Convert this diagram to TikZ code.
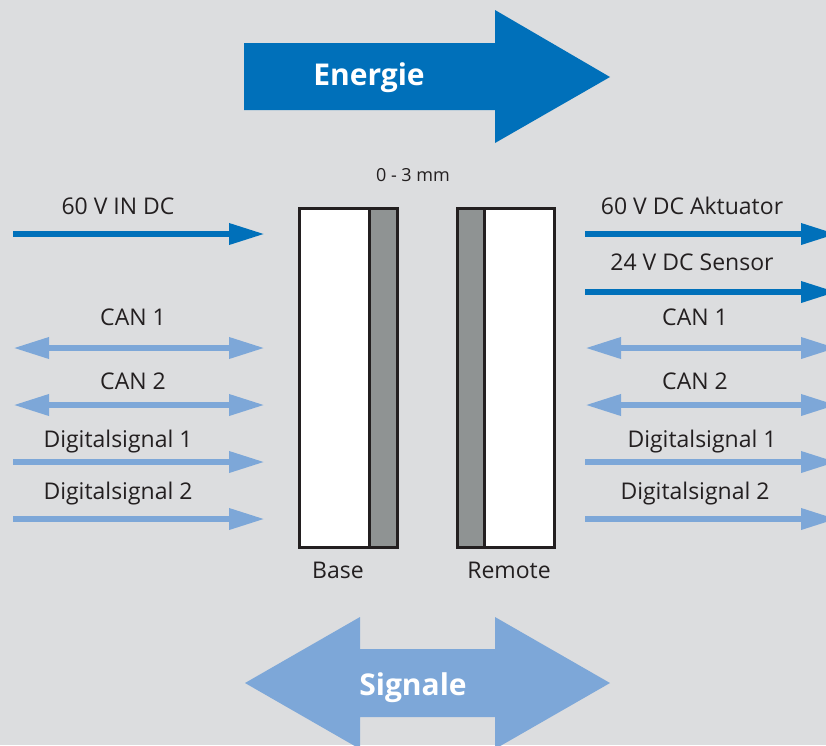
\documentclass[tikz,border=0pt]{standalone}
\usepackage{fontspec}
\setmainfont{Open Sans}
\usetikzlibrary{arrows.meta}
\definecolor{bg}{HTML}{DCDDDF}
\definecolor{dblue}{HTML}{0070BA}
\definecolor{lblue}{HTML}{7DA7D8}
\definecolor{ink}{HTML}{231F20}
\definecolor{slab}{HTML}{8F9393}
\tikzset{
  lbl/.style={text=ink, font=\fontsize{23}{25}\selectfont, inner sep=0pt, anchor=base},
  power/.style={draw=dblue, line width=6.5pt, -{Triangle[length=36pt,width=20pt]}},
  sig/.style={draw=lblue, line width=6.5pt, -{Triangle[length=36pt,width=20pt]}},
  sigboth/.style={draw=lblue, line width=6.5pt, {Triangle[length=36pt,width=20pt]}-{Triangle[length=36pt,width=20pt]}},
  whitebox/.style={draw=ink, line width=3pt, fill=white, inner sep=0pt, minimum width=#1, minimum height=339pt, anchor=north west},
  slabbox/.style={draw=ink, line width=3pt, fill=slab, inner sep=0pt, minimum width=28pt, minimum height=339pt, anchor=north west},
  big/.style={text=white, font=\bfseries\fontsize{30}{32}\selectfont, inner sep=0pt, anchor=base}
}
\begin{document}
\begin{tikzpicture}[x=1pt,y=-1pt]
\useasboundingbox (0,0) rectangle (826,745);
\clip (0,0) rectangle (826,745);
\fill[bg] (0,0) rectangle (826,745);
% Energie arrow
\fill[dblue] (244,43) -- (495,43) -- (495,10) -- (610,77) -- (495,143) -- (495,110) -- (244,110) -- cycle;
\node[big] (energie) at (369,85) {Energie};
% Signale arrow
\fill[lblue] (245,683) -- (360,617) -- (360,649) -- (495,649) -- (495,617) -- (610,683) -- (495,749) -- (495,717) -- (360,717) -- (360,749) -- cycle;
\node[big] (signale) at (413,695) {Signale};
% boxes
\node[whitebox=71pt] (base) at (297.5,207) {};
\node[slabbox] (baseslab) at (368,207) {};
\node[slabbox] (remslab) at (456,207) {};
\node[whitebox=70pt] (remote) at (483,207) {};
\node[text=ink, font=\fontsize{18}{20}\selectfont, anchor=base] (gap) at (413,181) {0 - 3 mm};
\node[lbl] (basel) at (338,578) {Base};
\node[lbl] (remotel) at (509,578) {Remote};
% left side coordinates
\coordinate (l1a) at (13,234); \coordinate (l1b) at (265,234);
\coordinate (l2a) at (13,348); \coordinate (l2b) at (265,348);
\coordinate (l3a) at (13,405); \coordinate (l3b) at (265,405);
\coordinate (l4a) at (13,462); \coordinate (l4b) at (265,462);
\coordinate (l5a) at (13,519); \coordinate (l5b) at (265,519);
% right side coordinates
\coordinate (r1a) at (585,234); \coordinate (r1b) at (837,234);
\coordinate (r2a) at (585,292); \coordinate (r2b) at (837,292);
\coordinate (r3a) at (585,348); \coordinate (r3b) at (837,348);
\coordinate (r4a) at (585,405); \coordinate (r4b) at (837,405);
\coordinate (r5a) at (585,462); \coordinate (r5b) at (837,462);
\coordinate (r6a) at (585,519); \coordinate (r6b) at (837,519);
\draw[power] (l1a) -- (l1b);
\draw[sigboth] (l2a) -- (l2b);
\draw[sigboth] (l3a) -- (l3b);
\draw[sig] (l4a) -- (l4b);
\draw[sig] (l5a) -- (l5b);
\draw[power] (r1a) -- (r1b);
\draw[power] (r2a) -- (r2b);
\draw[sigboth] (r3a) -- (r3b);
\draw[sigboth] (r4a) -- (r4b);
\draw[sig] (r5a) -- (r5b);
\draw[sig] (r6a) -- (r6b);
% labels
\node[lbl] (t1) at (118,214) {60 V IN DC};
\node[lbl] (t2) at (133,325) {CAN 1};
\node[lbl] (t3) at (133,389) {CAN 2};
\node[lbl] (t4) at (118,447) {Digitalsignal 1};
\node[lbl] (t5) at (118,499) {Digitalsignal 2};
\node[lbl] (u1) at (692,214) {60 V DC Aktuator};
\node[lbl] (u2) at (692,270) {24 V DC Sensor};
\node[lbl] (u3) at (695,325) {CAN 1};
\node[lbl] (u4) at (695,389) {CAN 2};
\node[lbl] (u5) at (702,447) {Digitalsignal 1};
\node[lbl] (u6) at (695,499) {Digitalsignal 2};
\end{tikzpicture}
\end{document}
